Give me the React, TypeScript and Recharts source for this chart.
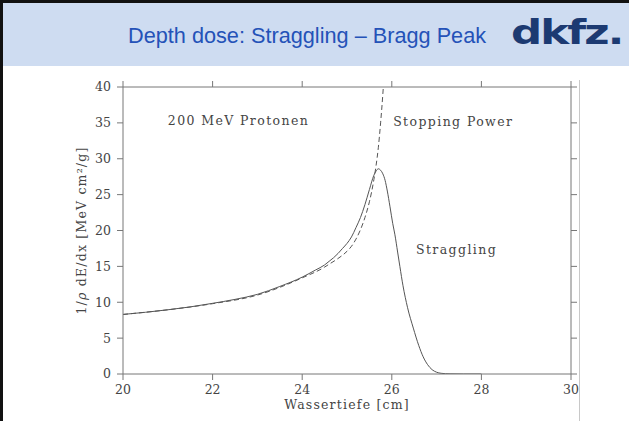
import { LineChart, Line, XAxis, YAxis, ReferenceDot } from 'recharts'

// depth ticks (cm) and dose ticks
const depthTicks = [20, 22, 24, 26, 28, 30]
const doseTicks = [0, 5, 10, 15, 20, 25, 30, 35, 40]

// straggling curve (solid)
const straggDepth = [20, 20.5, 21, 21.5, 22, 22.5, 23, 23.5, 24, 24.3, 24.5, 24.6, 24.7, 24.8, 24.9, 25, 25.1, 25.2, 25.3, 25.4, 25.5, 25.6, 25.65, 25.7, 25.75, 25.8, 25.85, 25.9, 25.96, 26.02, 26.07, 26.13, 26.18, 26.25, 26.35, 26.48, 26.6, 26.7, 26.8, 26.9, 27, 27.1, 27.3, 27.6, 28]
const straggDose = [8.3, 8.6, 8.95, 9.35, 9.85, 10.4, 11.1, 12.2, 13.5, 14.5, 15.2, 15.7, 16.2, 16.8, 17.5, 18.2, 19.1, 20.4, 21.8, 23.6, 25.7, 27.7, 28.3, 28.6, 28.4, 27.9, 27.0, 25.5, 23.3, 21.0, 19.4, 17.0, 15.0, 12.3, 9.3, 6.4, 4.0, 2.4, 1.3, 0.6, 0.25, 0.1, 0.02, 0, 0]

// stopping power curve (dashed)
const stopDepth = [20, 21, 22, 23, 24, 24.5, 24.6, 24.8, 25, 25.1, 25.2, 25.3, 25.4, 25.5, 25.55, 25.6, 25.65, 25.7, 25.75, 25.8, 25.82]
const stopDose = [8.3, 8.95, 9.8, 11.0, 13.4, 14.9, 15.3, 16.1, 17.1, 17.8, 18.8, 20.1, 21.8, 24.0, 25.4, 27.1, 29.1, 31.6, 35.0, 39.0, 40.8]

const straggling = straggDepth.map((x, i) => ({ x, y: straggDose[i] }))
const stopping = stopDepth.map((x, i) => ({ x, y: stopDose[i] }))

const axisGrey = '#777'
const txt = '#444'
const serif = '"DejaVu Serif", serif'
const blank = () => ''

const note = (value: string) => (props: any) => {
  const { x, y } = props.viewBox
  return (
    <text x={x} y={y} dy={4.5} fill={txt} fontFamily={serif} fontSize={12.5} letterSpacing={1.4}>
      {value}
    </text>
  )
}

const YLabel = (props: any) => {
  const { x, y, height } = props.viewBox
  const cx = x + 13
  const cy = y + height / 2
  return (
    <text x={cx} y={cy} transform={`rotate(-90, ${cx}, ${cy})`} textAnchor="middle" fill={txt}
      fontFamily={serif} fontSize={12.5} letterSpacing={1.2}>
      1/<tspan fontStyle="italic">ρ</tspan> dE/dx [MeV cm²/g]
    </text>
  )
}

export default function App() {
  return (
    <div style={{ position: 'fixed', top: 0, left: 0, width: 629, height: 421, background: '#fff', overflow: 'hidden' }}>
      <div style={{ position: 'absolute', left: 0, top: 0, width: 629, height: 66, background: '#cedcf1', borderTop: '3px solid #111', boxSizing: 'border-box' }} />
      <div style={{ position: 'absolute', left: 0, top: 0, width: 3, height: 421, background: '#111' }} />
      <div style={{ position: 'absolute', left: 128, top: 23, fontFamily: '"Liberation Sans", Arial, sans-serif', fontSize: 21.7, color: '#2452b8', whiteSpace: 'nowrap' }}>
        Depth dose: Straggling – Bragg Peak
      </div>
      <div style={{ position: 'absolute', left: 511, top: 12, fontFamily: '"DejaVu Sans", sans-serif', fontWeight: 900, fontSize: 34, color: '#1c3a72', whiteSpace: 'nowrap', transform: 'scaleX(1.28)', transformOrigin: 'left center', letterSpacing: -1.5 }}>
        dkfz.
      </div>
      <div style={{ position: 'absolute', left: 579, top: 80, width: 1, height: 341, background: '#c8c8c8' }} />
      <div style={{ position: 'absolute', left: 0, top: 0 }}>
        <LineChart width={629} height={421} margin={{ top: 79, right: 50, bottom: 7, left: 73 }}>
          <XAxis xAxisId="b" dataKey="x" type="number" domain={[20, 30]} ticks={depthTicks} allowDataOverflow
            stroke={axisGrey} tickSize={6} tickMargin={5} height={40}
            tick={{ fill: txt, fontFamily: serif, fontSize: 12.5 }}
            label={{ value: 'Wassertiefe [cm]', position: 'insideBottom', offset: 5, fill: txt, fontFamily: serif, fontSize: 12.5, letterSpacing: 1.2 }} />
          <XAxis xAxisId="t" dataKey="x" type="number" orientation="top" domain={[20, 30]} ticks={depthTicks}
            stroke={axisGrey} tickSize={6} tickFormatter={blank} height={8} />
          <YAxis yAxisId="l" type="number" domain={[0, 40]} ticks={doseTicks} allowDataOverflow
            stroke={axisGrey} tickSize={6} tickMargin={6} width={50}
            tick={{ fill: txt, fontFamily: serif, fontSize: 12.5 }}
            label={{ content: YLabel }} />
          <YAxis yAxisId="r" type="number" orientation="right" domain={[0, 40]} ticks={doseTicks}
            stroke={axisGrey} tickSize={6} tickFormatter={blank} width={8} />
          <Line xAxisId="t" yAxisId="r" data={straggling} dataKey="y" stroke="none" dot={false} isAnimationActive={false} />
          <Line xAxisId="b" yAxisId="l" data={stopping} dataKey="y" type="monotone" stroke="#555" strokeWidth={1}
            strokeDasharray="5 3" dot={false} isAnimationActive={false} />
          <Line xAxisId="b" yAxisId="l" data={straggling} dataKey="y" type="monotone" stroke="#555" strokeWidth={1}
            dot={false} isAnimationActive={false} />
          <ReferenceDot xAxisId="b" yAxisId="l" x={21} y={35.4} r={0} label={{ content: note('200 MeV Protonen') }} />
          <ReferenceDot xAxisId="b" yAxisId="l" x={26.03} y={35.2} r={0} label={{ content: note('Stopping Power') }} />
          <ReferenceDot xAxisId="b" yAxisId="l" x={26.54} y={17.3} r={0} label={{ content: note('Straggling') }} />
        </LineChart>
      </div>
    </div>
  )
}
